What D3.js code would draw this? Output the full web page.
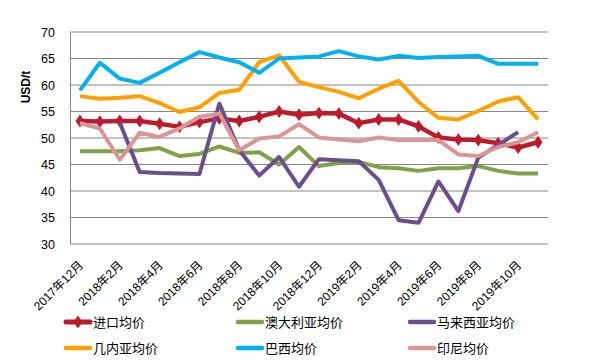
<!DOCTYPE html>
<html><head><meta charset="utf-8">
<script src="https://cdn.jsdelivr.net/npm/d3@7"></script>
<style>body{margin:0;background:#fff}svg{display:block}</style>
</head><body>
<svg id="c" width="590" height="360"></svg>
<script>
const months = ["2017年12月","2018年1月","2018年2月","2018年3月","2018年4月","2018年5月","2018年6月","2018年7月","2018年8月","2018年9月","2018年10月","2018年11月","2018年12月","2019年1月","2019年2月","2019年3月","2019年4月","2019年5月","2019年6月","2019年7月","2019年8月","2019年9月","2019年10月","2019年11月"];
const yTicks = [30,35,40,45,50,55,60,65,70];
const importAvg = [53.2,53.1,53.2,53.2,52.7,52.1,53.0,53.7,53.2,54.0,55.0,54.4,54.7,54.6,52.8,53.5,53.5,52.2,50.1,49.7,49.6,49.0,48.2,49.2];
const australia = [47.5,47.5,47.5,47.7,48.1,46.6,47.0,48.4,47.2,47.3,45.0,48.3,44.7,45.3,45.5,44.5,44.3,43.8,44.3,44.3,44.7,43.8,43.3,43.3];
const malaysia = [null,null,52.9,43.6,43.4,43.3,43.2,56.5,47.7,42.9,46.4,40.8,46.0,45.8,45.6,42.1,34.5,34.0,41.8,36.2,46.3,48.7,51.1,null];
const guinea = [57.9,57.4,57.6,57.9,56.6,54.9,55.8,58.5,59.1,64.3,65.6,60.6,59.6,58.7,57.5,59.3,60.8,56.8,53.8,53.5,55.1,56.9,57.7,53.5];
const brazil = [59.0,64.2,61.2,60.4,62.3,64.3,66.2,65.2,64.3,62.3,65.0,65.2,65.4,66.4,65.4,64.8,65.5,65.1,65.3,65.4,65.5,64.0,64.0,64.0];
const indonesia = [52.8,51.8,45.9,51.0,50.2,51.8,54.0,54.6,47.7,49.9,50.3,52.6,50.1,49.7,49.4,50.1,49.6,49.6,49.6,46.9,46.6,48.3,49.2,51.1];

const series = [
  {name:"进口均价", values:importAvg, color:"#BE1A2E", w:4.5, marker:true},
  {name:"澳大利亚均价", values:australia, color:"#80A246", w:4},
  {name:"马来西亚均价", values:malaysia, color:"#6A4E8E", w:4},
  {name:"几内亚均价", values:guinea, color:"#FF9F00", w:4},
  {name:"巴西均价", values:brazil, color:"#00B0F0", w:4},
  {name:"印尼均价", values:indonesia, color:"#DA9694", w:4}
];

const svg = d3.select("#c");
const L=70, R=548, T=32, B=244;
const x = d3.scaleBand().domain(months).range([L,R]);
const y = d3.scaleLinear().domain([30,70]).range([B,T]);
const font = "'Liberation Sans', Arial, 'Noto Sans CJK SC', sans-serif";

// grid
svg.append("g").selectAll("line").data(yTicks).join("line")
  .attr("x1",L).attr("x2",R).attr("y1",d=>y(d)).attr("y2",d=>y(d))
  .attr("stroke","#868686").attr("stroke-width",1);
svg.append("line").attr("x1",L+0.5).attr("x2",L+0.5).attr("y1",T).attr("y2",B).attr("stroke","#868686");

// y axis labels
const yAxis = d3.axisLeft(y).tickValues(yTicks).tickSize(0).tickPadding(15);
const ga = svg.append("g").attr("transform",`translate(${L},0)`).call(yAxis);
ga.select(".domain").remove();
ga.selectAll("text").attr("font-family",font).attr("font-size",12.5).attr("fill","#000");

svg.append("text").attr("transform","translate(30,87) rotate(-90)")
  .attr("text-anchor","middle").attr("font-family",font).attr("font-weight","bold")
  .attr("font-size",12).text("USD/t");

// x labels
const xAxis = d3.axisBottom(x).tickValues(months.filter((d,i)=>i%2===0)).tickSize(0).tickPadding(0);
const gx = svg.append("g").attr("transform",`translate(0,${B})`).call(xAxis);
gx.select(".domain").remove();
gx.selectAll("text").attr("font-family",font).attr("font-size",12).attr("fill","#000")
  .attr("text-anchor","end").attr("dy",0)
  .attr("transform","translate(4,22) rotate(-45)");

// lines
series.forEach(s=>{
  const pts = s.values.map((v,i)=>({v,i}));
  svg.append("path").attr("d", d3.line().defined(d=>d.v!=null).x(d=>x(months[d.i])+x.bandwidth()/2).y(d=>y(d.v))(pts))
    .attr("fill","none").attr("stroke",s.color).attr("stroke-width",s.w).attr("stroke-linejoin","round");
  if(s.marker){
    svg.append("g").selectAll("path").data(pts).join("path")
      .attr("transform",d=>`translate(${x(months[d.i])+x.bandwidth()/2},${y(d.v)}) scale(0.8,1.15)`)
      .attr("d",d3.symbol(d3.symbolDiamond2,80)).attr("fill",s.color);
  }
});

// legend
const legPos = [[93,322],[265,322],[437,322],[93,348],[265,348],[437,348]];
series.forEach((s,i)=>{
  const [lx,ly]=legPos[i];
  const g = svg.append("g").attr("transform",`translate(${lx},${ly})`);
  g.append("line").attr("x1",-27).attr("x2",-3).attr("y1",0).attr("y2",0)
    .attr("stroke",s.color).attr("stroke-width",s.w+0.5).attr("stroke-linecap","round");
  if(s.marker) g.append("path").attr("transform","translate(-15,0) scale(0.8,1.15)").attr("d",d3.symbol(d3.symbolDiamond2,80)).attr("fill",s.color);
  g.append("text").attr("x",0).attr("y",4.5).attr("font-family",font).attr("font-size",13).attr("fill","#000").text(s.name);
});
</script>
</body></html>
